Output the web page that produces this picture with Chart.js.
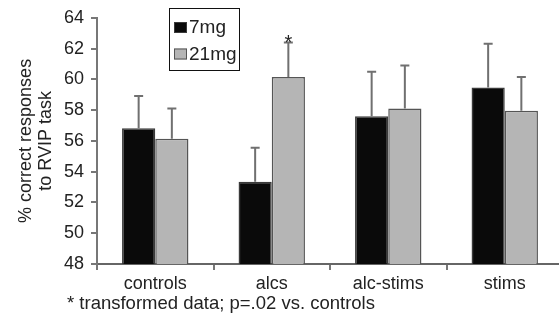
<!DOCTYPE html>
<html>
<head>
<meta charset="utf-8">
<script src="https://cdn.jsdelivr.net/npm/chart.js@4.4.0/dist/chart.umd.min.js"></script>
<style>
  html, body { margin: 0; padding: 0; background: #fff; overflow: hidden; }
</style>
</head>
<body>
<canvas id="rvipChart" width="566" height="320"></canvas>
<script>
const groups = ['controls', 'alcs', 'alc-stims', 'stims'];
const dose7 = [56.82, 53.35, 57.6, 59.47];
const dose7Err = [2.1, 2.2, 2.9, 2.85];
const dose21 = [56.14, 60.15, 58.1, 57.96];
const dose21Err = [1.96, 2.25, 2.8, 2.2];
const seriesNames = ['7mg', '21mg'];
const starMarks = [{ dataset: 1, index: 1 }];
const footnote = '* transformed data; p=.02 vs. controls';
const yTitle = ['% correct responses', 'to RVIP task'];

const family = "'Liberation Sans', Arial, sans-serif";
const textColor = '#222';
const errors = [dose7Err, dose21Err];
const fills = ['#0a0a0a', '#b5b5b5'];
const borders = ['#3a3a3a', '#555'];

// error bars, star, legend box and footnote
const extras = {
  id: 'extras',
  afterDatasetsDraw(chart) {
    const ctx = chart.ctx;
    const y = chart.scales.y;
    ctx.save();
    ctx.strokeStyle = '#707070';
    ctx.lineWidth = 2;
    errors.forEach((errArr, di) => {
      const meta = chart.getDatasetMeta(di);
      meta.data.forEach((bar, i) => {
        const top = y.getPixelForValue(chart.data.datasets[di].data[i] + errArr[i]);
        ctx.beginPath();
        ctx.moveTo(bar.x, bar.y);
        ctx.lineTo(bar.x, top);
        ctx.moveTo(bar.x - 4.5, top);
        ctx.lineTo(bar.x + 4.5, top);
        ctx.stroke();
      });
    });
    ctx.fillStyle = textColor;
    ctx.font = '20px ' + family;
    ctx.textAlign = 'center';
    ctx.textBaseline = 'alphabetic';
    starMarks.forEach(s => {
      const bar = chart.getDatasetMeta(s.dataset).data[s.index];
      const top = y.getPixelForValue(chart.data.datasets[s.dataset].data[s.index] + errors[s.dataset][s.index]);
      ctx.fillText('*', bar.x, top + 7);
    });
    ctx.restore();
  },
  afterDraw(chart) {
    const ctx = chart.ctx;
    ctx.save();
    // legend
    ctx.strokeStyle = '#111';
    ctx.lineWidth = 1;
    ctx.strokeRect(169.5, 8.5, 70, 62);
    ctx.font = '19px ' + family;
    ctx.textAlign = 'left';
    ctx.textBaseline = 'alphabetic';
    seriesNames.forEach((name, i) => {
      const base = 33 + i * 26.5;
      ctx.fillStyle = fills[i];
      ctx.fillRect(174, base - 11, 13, 11);
      ctx.strokeStyle = borders[i];
      ctx.strokeRect(174.5, base - 10.5, 12, 10);
      ctx.fillStyle = textColor;
      ctx.fillText(name, 189, base);
    });
    // footnote
    ctx.font = '18.5px ' + family;
    ctx.fillText(footnote, 67, 309);
    ctx.restore();
  }
};

new Chart(document.getElementById('rvipChart'), {
  type: 'bar',
  data: {
    labels: groups,
    datasets: [
      { label: seriesNames[0], data: dose7, backgroundColor: fills[0], borderColor: borders[0], borderWidth: 1.5 },
      { label: seriesNames[1], data: dose21, backgroundColor: fills[1], borderColor: borders[1], borderWidth: 1.5 }
    ]
  },
  options: {
    responsive: false,
    animation: false,
    layout: { padding: { top: 15, right: 3, left: 0, bottom: 0 } },
    datasets: { bar: { categoryPercentage: 0.57, barPercentage: 1 } },
    plugins: { legend: { display: false }, tooltip: { enabled: false } },
    scales: {
      x: {
        offset: true,
        grid: { offset: true, drawOnChartArea: false, drawTicks: true, tickLength: 6, color: '#777', lineWidth: 2 },
        border: { color: '#666', width: 2 },
        ticks: { color: textColor, font: { size: 18, family: family }, padding: 3 },
        afterFit(s) { s.height = 56; }
      },
      y: {
        min: 48,
        max: 64,
        ticks: { stepSize: 2, padding: 7, color: textColor, font: { size: 18, family: family } },
        grid: { drawOnChartArea: false, tickLength: 6, color: '#777', lineWidth: 2 },
        border: { color: '#777', width: 2 },
        title: {
          display: true,
          text: yTitle,
          color: textColor,
          font: { size: 18, family: family, lineHeight: 1.1 },
          padding: { top: 16, bottom: 0 }
        },
        afterFit(s) { s.width = 97; }
      }
    }
  },
  plugins: [extras]
});
</script>
</body>
</html>
